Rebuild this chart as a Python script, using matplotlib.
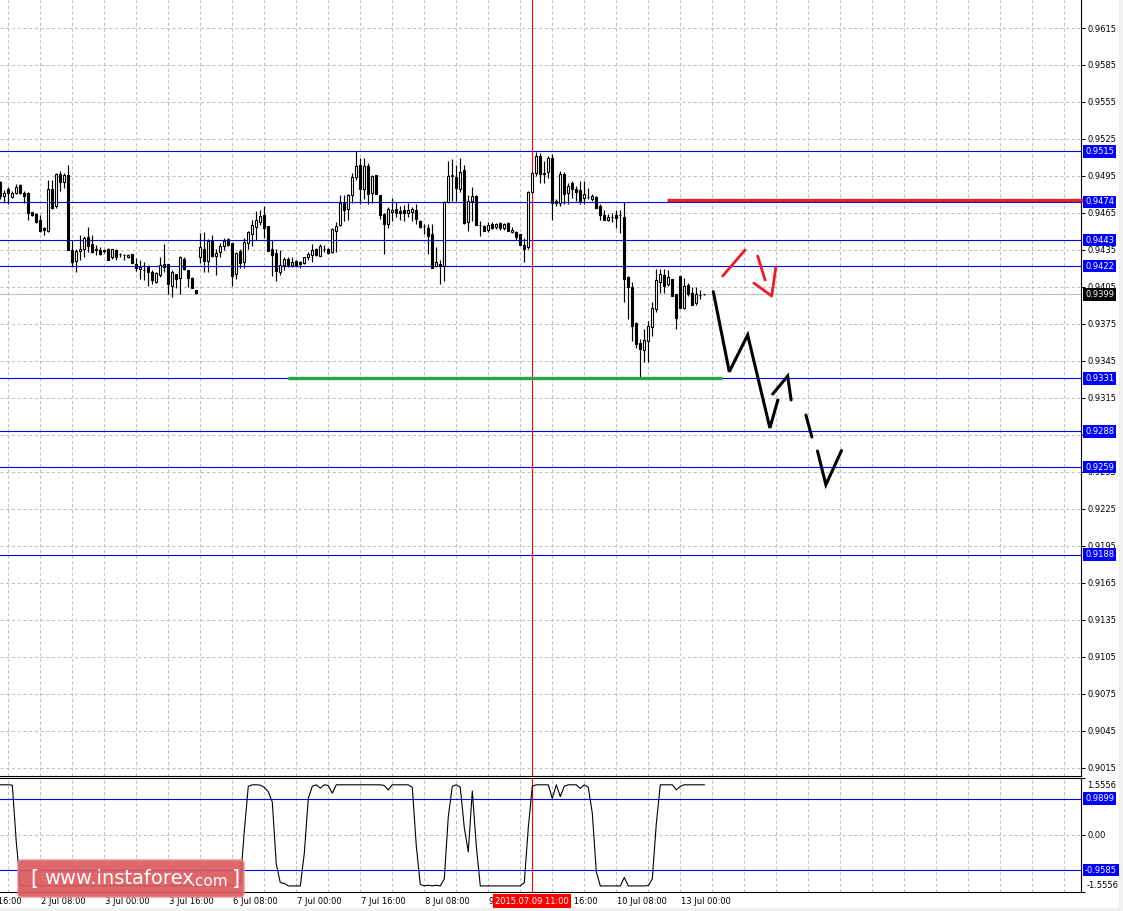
import matplotlib
matplotlib.use('Agg')
import matplotlib.pyplot as plt
import numpy as np
from matplotlib.transforms import offset_copy, blended_transform_factory
from matplotlib.patches import FancyBboxPatch, Rectangle

plt.rcParams['font.family'] = ['DejaVu Sans']

# ---------------- data (hourly candles, 1 Jul 22:00 .. 13 Jul 06:00) ----------------
opens = [
 0.94900, 0.94790, 0.94847, 0.94781, 0.94809, 0.94874, 0.94809, 0.94814, 0.94661, 0.94645,
 0.94596, 0.94525, 0.94508, 0.94847, 0.94705, 0.94964, 0.94904, 0.94956, 0.94350, 0.94260,
 0.94345, 0.94358, 0.94459, 0.94396, 0.94358, 0.94350, 0.94350, 0.94358, 0.94290, 0.94350,
 0.94315, 0.94309, 0.94290, 0.94315, 0.94233, 0.94192, 0.94190,
 0.94219, 0.94173, 0.94091, 0.94151, 0.94233, 0.94233, 0.94058, 0.94154, 0.94126, 0.94273,
 0.94186, 0.94123, 0.94022, 0.94290, 0.94358, 0.94262, 0.94424, 0.94301, 0.94336, 0.94382,
 0.94437, 0.94405, 0.94154, 0.94342, 0.94254, 0.94405, 0.94481, 0.94536, 0.94574, 0.94637,
 0.94541, 0.94358, 0.94323, 0.94173, 0.94227, 0.94273, 0.94227,
 0.94260, 0.94254, 0.94241, 0.94290, 0.94309, 0.94358, 0.94304, 0.94358, 0.94355, 0.94331,
 0.94506, 0.94549, 0.94732, 0.94683, 0.94795, 0.94942, 0.95041, 0.94841, 0.95033, 0.94814,
 0.94956, 0.94792, 0.94642, 0.94560, 0.94656, 0.94683, 0.94664, 0.94678, 0.94650, 0.94659,
 0.94678, 0.94588, 0.94541, 0.94528, 0.94478, 0.94222,
 0.94235, 0.94222, 0.94740, 0.94951, 0.94945, 0.94847, 0.94997, 0.94577, 0.94746, 0.94787,
 0.94555, 0.94541, 0.94514, 0.94563, 0.94533, 0.94571, 0.94528, 0.94568, 0.94495, 0.94495,
 0.94478, 0.94391, 0.94377,
 0.94822, 0.94978, 0.95115, 0.94964, 0.94983, 0.95093, 0.94746, 0.94732, 0.94964, 0.94814,
 0.94896, 0.94847, 0.94836, 0.94773, 0.94781, 0.94765, 0.94781, 0.94710, 0.94637, 0.94590,
 0.94617, 0.94637, 0.94637,
 0.94617, 0.94132, 0.94050, 0.93755, 0.93599, 0.93536, 0.93613, 0.93722, 0.93872, 0.94091,
 0.94145, 0.94071, 0.94118, 0.93995, 0.94137, 0.93880, 0.94063, 0.94001, 0.93918, 0.93982, 0.93990,
]
highs = [
 0.94910, 0.94840, 0.94863, 0.94828, 0.94882, 0.94882, 0.94828, 0.94820, 0.94661, 0.94650,
 0.94637, 0.94540, 0.94918, 0.94918, 0.94978, 0.94992, 0.94978, 0.95040, 0.94432, 0.94355,
 0.94473, 0.94465, 0.94536, 0.94473, 0.94391, 0.94377, 0.94358, 0.94364, 0.94358, 0.94361,
 0.94323, 0.94317, 0.94317, 0.94317, 0.94282, 0.94268, 0.94254,
 0.94227, 0.94186, 0.94173, 0.94295, 0.94396, 0.94233, 0.94186, 0.94159, 0.94301, 0.94290,
 0.94186, 0.94132, 0.94028, 0.94487, 0.94492, 0.94437, 0.94473, 0.94355, 0.94405, 0.94446,
 0.94446, 0.94405, 0.94336, 0.94358, 0.94446, 0.94500, 0.94596, 0.94664, 0.94678, 0.94710,
 0.94541, 0.94432, 0.94355, 0.94350, 0.94290, 0.94290, 0.94290,
 0.94268, 0.94260, 0.94295, 0.94331, 0.94396, 0.94369, 0.94396, 0.94391, 0.94369, 0.94528,
 0.94577, 0.94795, 0.94795, 0.94800, 0.94978, 0.95150, 0.95095, 0.95095, 0.95052, 0.94959,
 0.94956, 0.94792, 0.94650, 0.94697, 0.94768, 0.94738, 0.94705, 0.94713, 0.94732, 0.94697,
 0.94724, 0.94596, 0.94560, 0.94560, 0.94560, 0.94377,
 0.94268, 0.94746, 0.95074, 0.95087, 0.95041, 0.95095, 0.95041, 0.94795, 0.94860, 0.94795,
 0.94588, 0.94555, 0.94577, 0.94574, 0.94568, 0.94577, 0.94571, 0.94577, 0.94533, 0.94506,
 0.94478, 0.94446, 0.94828,
 0.94986, 0.95142, 0.95136, 0.95074, 0.95109, 0.95128, 0.94760, 0.94992, 0.94983, 0.94896,
 0.94910, 0.94869, 0.94910, 0.94910, 0.94855, 0.94800, 0.94787, 0.94719, 0.94678, 0.94645,
 0.94650, 0.94678, 0.94678,
 0.94738, 0.94137, 0.94090, 0.93763, 0.93626, 0.93708, 0.93777, 0.93927, 0.94192, 0.94192,
 0.94192, 0.94186, 0.94118, 0.93995, 0.94137, 0.94126, 0.94082, 0.94049, 0.94049, 0.94022, 0.93993,
]
lows = [
 0.94760, 0.94732, 0.94719, 0.94773, 0.94800, 0.94800, 0.94732, 0.94590, 0.94623, 0.94568,
 0.94492, 0.94473, 0.94492, 0.94683, 0.94691, 0.94828, 0.94855, 0.94350, 0.94214, 0.94173,
 0.94268, 0.94295, 0.94336, 0.94323, 0.94309, 0.94309, 0.94323, 0.94268, 0.94273, 0.94268,
 0.94295, 0.94268, 0.94282, 0.94241, 0.94181, 0.94118, 0.94104,
 0.94055, 0.94077, 0.94082, 0.94132, 0.94173, 0.93995, 0.93968, 0.94044, 0.93995, 0.94186,
 0.94050, 0.94041, 0.93990, 0.94246, 0.94173, 0.94173, 0.94295, 0.94145, 0.94290, 0.94350,
 0.94381, 0.94055, 0.94118, 0.94208, 0.94208, 0.94355, 0.94383, 0.94432, 0.94555, 0.94446,
 0.94345, 0.94137, 0.94099, 0.94145, 0.94186, 0.94214, 0.94214,
 0.94214, 0.94205, 0.94233, 0.94268, 0.94254, 0.94304, 0.94304, 0.94331, 0.94315, 0.94323,
 0.94336, 0.94547, 0.94588, 0.94596, 0.94732, 0.94915, 0.94719, 0.94760, 0.94724, 0.94732,
 0.94806, 0.94604, 0.94315, 0.94527, 0.94588, 0.94615, 0.94596, 0.94588, 0.94615, 0.94588,
 0.94560, 0.94527, 0.94478, 0.94315, 0.94205, 0.94214,
 0.94077, 0.94096, 0.94732, 0.94746, 0.94746, 0.94822, 0.94563, 0.94506, 0.94588, 0.94549,
 0.94467, 0.94506, 0.94495, 0.94519, 0.94522, 0.94514, 0.94514, 0.94500, 0.94487, 0.94432,
 0.94391, 0.94249, 0.94358,
 0.94814, 0.94951, 0.94896, 0.94896, 0.94937, 0.94590, 0.94705, 0.94705, 0.94719, 0.94719,
 0.94773, 0.94746, 0.94719, 0.94719, 0.94760, 0.94750, 0.94691, 0.94590, 0.94596, 0.94582,
 0.94580, 0.94527, 0.94486,
 0.93927, 0.93790, 0.93613, 0.93558, 0.93305, 0.93444, 0.93444, 0.93654, 0.93845, 0.94000,
 0.94000, 0.94055, 0.93973, 0.93708, 0.93880, 0.93872, 0.93973, 0.93908, 0.93908, 0.93954, 0.93985,
]
closes = [
 0.94790, 0.94814, 0.94814, 0.94809, 0.94863, 0.94809, 0.94787, 0.94650, 0.94631, 0.94574,
 0.94506, 0.94514, 0.94847, 0.94691, 0.94964, 0.94904, 0.94959, 0.94350, 0.94254, 0.94342,
 0.94358, 0.94446, 0.94385, 0.94336, 0.94350, 0.94317, 0.94345, 0.94268, 0.94355, 0.94293,
 0.94315, 0.94309, 0.94309, 0.94241, 0.94205, 0.94214, 0.94186,
 0.94173, 0.94104, 0.94164, 0.94227, 0.94214, 0.94077, 0.94173, 0.94118, 0.94290, 0.94192,
 0.94126, 0.94044, 0.94001, 0.94377, 0.94262, 0.94424, 0.94301, 0.94323, 0.94382, 0.94426,
 0.94391, 0.94140, 0.94323, 0.94246, 0.94418, 0.94492, 0.94555, 0.94596, 0.94623, 0.94527,
 0.94345, 0.94309, 0.94181, 0.94227, 0.94273, 0.94227, 0.94254,
 0.94227, 0.94233, 0.94290, 0.94317, 0.94347, 0.94309, 0.94383, 0.94358, 0.94323, 0.94522,
 0.94541, 0.94732, 0.94678, 0.94795, 0.94942, 0.95033, 0.94841, 0.95033, 0.94806, 0.94951,
 0.94806, 0.94631, 0.94560, 0.94683, 0.94677, 0.94650, 0.94650, 0.94650, 0.94678, 0.94686,
 0.94604, 0.94533, 0.94541, 0.94467, 0.94205, 0.94249,
 0.94222, 0.94740, 0.94951, 0.94959, 0.94855, 0.94986, 0.94568, 0.94746, 0.94787, 0.94555,
 0.94555, 0.94506, 0.94555, 0.94528, 0.94563, 0.94528, 0.94563, 0.94508, 0.94514, 0.94459,
 0.94391, 0.94358, 0.94822,
 0.94978, 0.95115, 0.94964, 0.94978, 0.95093, 0.94732, 0.94732, 0.94964, 0.94800, 0.94869,
 0.94847, 0.94820, 0.94750, 0.94800, 0.94781, 0.94787, 0.94691, 0.94637, 0.94596, 0.94617,
 0.94617, 0.94610, 0.94630,
 0.94118, 0.94050, 0.93736, 0.93586, 0.93545, 0.93618, 0.93736, 0.93880, 0.94104, 0.94153,
 0.94055, 0.94132, 0.93973, 0.93798, 0.93880, 0.94055, 0.93990, 0.93908, 0.93995, 0.93982, 0.93990,
]

# oscillator in the lower window (one value per candle)
osc = [
 1.37, 1.37, 1.37, 1.36, -0.20, -1.36,
 -1.39, -1.39, -1.38, -1.39, -1.39, -1.39, -1.38, -1.39, -1.39,
 -1.39, -1.38, -1.39, -1.39, -1.39, -1.39, -1.38, -1.39, -1.39,
 -1.39, -1.39, -1.39, -1.38, -1.39, -1.39, -1.39, -1.39, -1.38,
 -1.39, -1.39, -1.39, -1.39, -1.39, -1.38, -1.39, -1.39, -1.39,
 -1.39, -1.38, -1.39, -1.39, -1.39, -1.39, -1.39, -1.38, -1.39,
 -1.39, -1.39, -1.39, -1.39, -1.38, -1.36, -1.37, -1.38, -1.39,
 -1.30, 0.10, 1.33, 1.37, 1.37, 1.36, 1.30, 1.18, 0.90, -0.80, -1.30, -1.32, -1.39, -1.39, -1.39, -1.39,
 -0.50, 1.00, 1.33, 1.37, 1.28, 1.37, 1.35, 1.14, 1.37,
 1.37, 1.37, 1.37, 1.37, 1.37, 1.37, 1.37, 1.37, 1.37, 1.37, 1.37,
 1.35, 1.23, 1.37, 1.37, 1.37, 1.37, 1.37, 1.30,
 -0.30, -1.35, -1.39, -1.37, -1.39, -1.37, -1.39, -1.20, 0.50, 1.33, 1.37, 1.30, 0.20, -0.46, 1.20, -0.30,
 -1.39, -1.39, -1.39, -1.39, -1.39, -1.39, -1.39, -1.39, -1.39, -1.39, -1.39, -1.30, 0.20,
 1.33, 1.37, 1.37, 1.37, 1.37, 1.00, 1.37, 1.05, 1.33, 1.37, 1.37, 1.37, 1.27, 1.37, 1.30, 0.60, -1.00,
 -1.39, -1.39, -1.39, -1.39, -1.39, -1.39, -1.16, -1.39, -1.39, -1.39, -1.39, -1.39, -1.38, -1.20, 0.30,
 1.37, 1.37, 1.37, 1.37, 1.23, 1.33, 1.37, 1.37, 1.37, 1.37, 1.37, 1.37,
]

price_ticks = [0.9615, 0.9585, 0.9555, 0.9525, 0.9495, 0.9465, 0.9435, 0.9405, 0.9375,
               0.9345, 0.9315, 0.9285, 0.9255, 0.9225, 0.9195, 0.9165, 0.9135, 0.9105,
               0.9075, 0.9045, 0.9015]
level_lines = [0.9515, 0.9474, 0.9443, 0.9422, 0.9331, 0.9288, 0.9259, 0.9188]
bid_price = 0.9399
osc_levels = [0.9899, -0.9585]
osc_range = 1.5556

time_labels = ["1 Jul 16:00", "2 Jul 08:00", "3 Jul 00:00", "3 Jul 16:00", "6 Jul 08:00",
               "7 Jul 00:00", "7 Jul 16:00", "8 Jul 08:00", "9 Jul 00:00", "9 Jul 16:00",
               "10 Jul 08:00", "13 Jul 00:00"]
time_label_bars = [-6, 10, 26, 42, 58, 74, 90, 106, 122, 138, 154, 170]
marker_bar = 133
marker_label = "2015.07.09 11:00"

# hand-drawn annotations (bar index, price)
support_bars = [71.9, 180.4]
support_price = 0.9331
resist_bars = [166.7, 272.8]
resist_price = 0.94755
zig_bars = [178.25, 182.25, 186.85, 192.4, 194.4]
zig_prices = [0.94012, 0.93363, 0.93661, 0.92907, 0.93134]
zig2_bars = [193.1, 196.85, 197.7]
zig2_prices = [0.93182, 0.93328, 0.93134]
zig3_bars = [201.4, 202.9]
zig3_prices = [0.93012, 0.92834]
zig4_bars = [204.3, 206.4, 210.3]
zig4_prices = [0.92720, 0.92447, 0.92723]
red1_bars = [180.6, 186.2]
red1_prices = [0.94139, 0.94350]
red2_bars = [189.35, 191.2]
red2_prices = [0.94301, 0.94107]
red3_bars = [188.4, 192.85, 193.9]
red3_prices = [0.94082, 0.93977, 0.94212]

# ---------------- layout ----------------
W, H = 1123, 911
fig = plt.figure(figsize=(W / 100, H / 100), dpi=100)
fig.patch.set_facecolor('white')

def fx(px):
    return px / W

def fy(py):
    return 1 - py / H

ax = fig.add_axes([0, fy(776), fx(1081), 776 / H])
axi = fig.add_axes([0, fy(892), fx(1081), (892 - 778) / H])

XMIN, XMAX = -0.075, 270.18
PTOP = 0.9615 + 28 / 12333.0
PBOT = 0.9615 - 748 / 12333.0

grid_kw = dict(color='#C0C0C0', lw=0.75, ls=(0, (3, 2.5)), zorder=0)
vgrid = np.arange(2, 271, 8)

# ---------------- main panel ----------------
ax.set_xlim(XMIN, XMAX)
ax.set_ylim(PBOT, PTOP)
for p in price_ticks:
    ax.axhline(p, **grid_kw)
for g in vgrid:
    ax.axvline(g, **grid_kw)

o = np.array(opens); h = np.array(highs); l = np.array(lows); c = np.array(closes)
idx = np.arange(len(o))
up = c >= o
ax.vlines(idx, l, h, color='black', lw=0.85, zorder=3)
bb = np.minimum(o, c)
bh = np.abs(c - o)
ax.bar(idx[up], bh[up], bottom=bb[up], width=0.52, facecolor='white', edgecolor='black', lw=0.8, zorder=4)
ax.bar(idx[~up], bh[~up], bottom=bb[~up], width=0.52, facecolor='black', edgecolor='black', lw=0.8, zorder=4)

for lv in level_lines:
    ax.axhline(lv, color='#0000FF', lw=0.8, zorder=2)
ax.axhline(bid_price, color='#C0C0C0', lw=0.8, zorder=1.5)
ax.axvline(marker_bar, color='#FF0000', lw=0.8, zorder=2)

ax.plot(support_bars, [support_price] * 2, color='#23A84A', lw=2.4, solid_capstyle='butt', zorder=5)
ax.plot(resist_bars, [resist_price] * 2, color='#E3242B', lw=2.4, solid_capstyle='butt', zorder=5, clip_on=False)

blk = dict(color='black', lw=2.2, solid_capstyle='round', solid_joinstyle='miter', zorder=6)
ax.plot(zig_bars, zig_prices, **blk)
ax.plot(zig2_bars, zig2_prices, **blk)
ax.plot(zig3_bars, zig3_prices, **blk)
ax.plot(zig4_bars, zig4_prices, **blk)
red = dict(color='#EE1C25', lw=2.0, solid_capstyle='round', zorder=6)
ax.plot(red1_bars, red1_prices, **red)
ax.plot(red2_bars, red2_prices, **red)
ax.plot(red3_bars, red3_prices, **red)

for s in ['top', 'left']:
    ax.spines[s].set_visible(False)
ax.spines['right'].set_linewidth(0.8)
ax.spines['bottom'].set_linewidth(0.8)
ax.yaxis.tick_right()
ax.set_yticks(price_ticks)
ax.set_yticklabels([f'{p:.4f}' for p in price_ticks], fontsize=6)
ax.tick_params(axis='y', length=3, width=0.75, pad=2)
ax.set_xticks([])

trans_box = offset_copy(ax.get_yaxis_transform(), fig=fig, x=4, y=0, units='dots')
for lv in level_lines:
    ax.text(1.0, lv, f'{lv:.4f}', transform=trans_box, ha='left', va='center', fontsize=6,
            color='white', zorder=10,
            bbox=dict(boxstyle='square,pad=0.22', fc='#0000FF', ec='none'))
ax.text(1.0, bid_price, f'{bid_price:.4f}', transform=trans_box, ha='left', va='center', fontsize=6,
        color='white', zorder=10, bbox=dict(boxstyle='square,pad=0.22', fc='black', ec='none'))

# ---------------- indicator panel ----------------
axi.set_xlim(XMIN, XMAX)
axi.set_ylim(-osc_range, osc_range)
axi.axhline(0, **grid_kw)
for g in vgrid:
    axi.axvline(g, **grid_kw)
for lv in osc_levels:
    axi.axhline(lv, color='#0000FF', lw=0.8, zorder=2)
axi.axvline(marker_bar, color='#FF0000', lw=0.8, zorder=2)
axi.plot(np.arange(len(osc)), osc, color='black', lw=0.8, zorder=3)
axi.spines['left'].set_visible(False)
for s in ['top', 'right', 'bottom']:
    axi.spines[s].set_linewidth(0.8)
axi.set_xticks([])
axi.yaxis.tick_right()
axi.set_yticks([osc_range, 0, -osc_range])
axi.set_yticklabels([])
axi.tick_params(axis='y', length=3, width=0.75)

ti = offset_copy(axi.transAxes, fig=fig, x=6, y=0, units='dots')
axi.text(1.0, 0.93, f'{osc_range:.4f}', transform=ti, ha='left', va='center', fontsize=6)
axi.text(1.0, 0.5, '0.00', transform=ti, ha='left', va='center', fontsize=6)
axi.text(1.0, 0.06, f'-{osc_range:.4f}', transform=ti, ha='left', va='center', fontsize=6)
trans_ib = offset_copy(axi.get_yaxis_transform(), fig=fig, x=4, y=0, units='dots')
for lv in osc_levels:
    axi.text(1.0, lv, f'{lv:.4f}', transform=trans_ib, ha='left', va='center', fontsize=6,
             color='white', zorder=10, bbox=dict(boxstyle='square,pad=0.22', fc='#0000FF', ec='none'))

# time axis labels
tl = blended_transform_factory(axi.transData, fig.transFigure)
for b, s in zip(time_label_bars, time_labels):
    axi.text(b + 0.25, fy(901), s, transform=tl, ha='left', va='center', fontsize=6, clip_on=False)
axi.text(marker_bar, fy(901), marker_label, transform=tl, ha='center', va='center', fontsize=6,
         color='white', zorder=12, bbox=dict(boxstyle='square,pad=0.25', fc='#FF0000', ec='none'))

# watermark
wm = FancyBboxPatch((fx(18), fy(897)), fx(226), 37 / H, boxstyle='round,pad=0,rounding_size=0.004',
                    transform=fig.transFigure, fc='#DC5A5E', ec='#E98A8D', lw=1.0, alpha=0.92, zorder=20)
fig.add_artist(wm)
fig.text(fx(30), fy(879), '[', color='white', fontsize=15, va='center', ha='left', zorder=21)
fig.text(fx(44), fy(879), 'www.instaforex', color='white', fontsize=14, va='center', ha='left', zorder=21)
fig.text(fx(190), fy(881), '.com', color='white', fontsize=11, va='center', ha='left', zorder=21)
fig.text(fx(232), fy(879), ']', color='white', fontsize=15, va='center', ha='left', zorder=21)

# window edges
fig.add_artist(Rectangle((fx(1119), 0), fx(4), 1, transform=fig.transFigure, fc='#F0F0F0', ec='none', zorder=0))
fig.add_artist(Rectangle((0, 0), 1, 3 / H, transform=fig.transFigure, fc='#F0F0F0', ec='none', zorder=0))

fig.savefig('out.png', dpi=100, facecolor='white')
